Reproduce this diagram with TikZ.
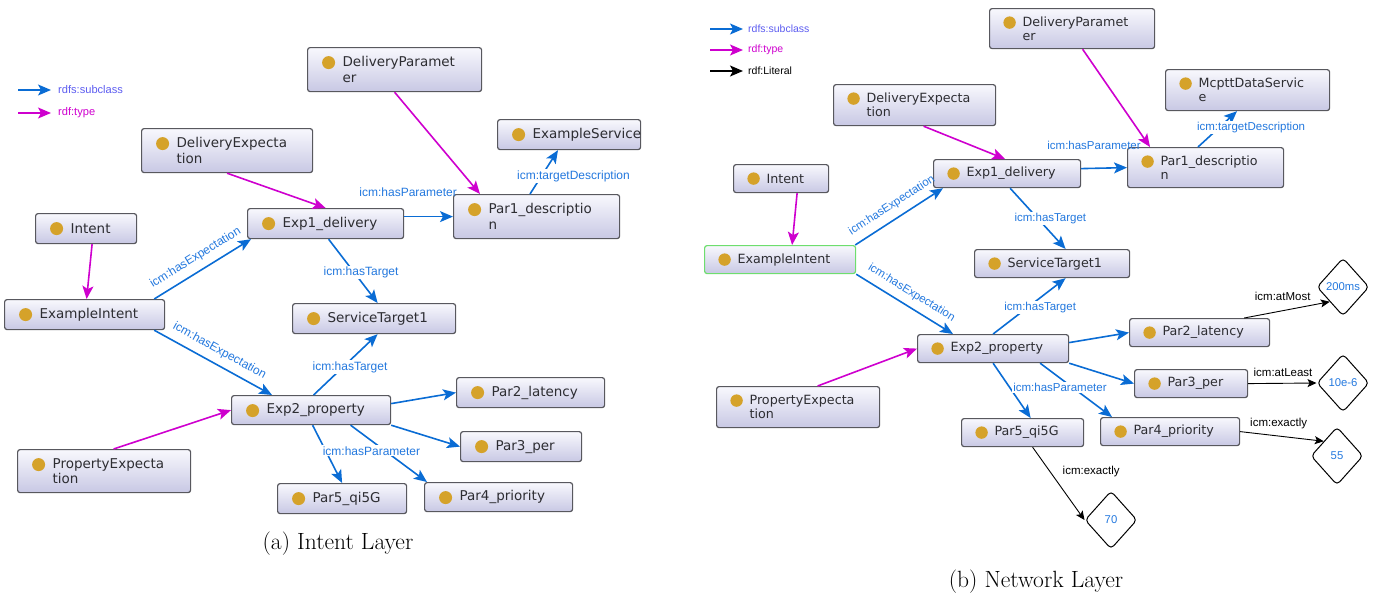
\documentclass[tikz,border=0pt]{standalone}
\usepackage{fontspec}
\usepackage{tikz}
\usetikzlibrary{arrows.meta,shapes.geometric}
\newfontfamily\nodefont{DejaVu Sans}
\newfontfamily\lblfont{Liberation Sans}
\definecolor{boxtop}{RGB}{248,248,253}
\definecolor{boxbot}{RGB}{200,200,228}
\definecolor{boxgray}{RGB}{88,88,94}
\definecolor{dotc}{RGB}{213,162,42}
\definecolor{txtgray}{RGB}{45,45,50}
\definecolor{edgeblue}{RGB}{10,108,212}
\definecolor{lblblue}{RGB}{35,120,222}
\definecolor{magen}{RGB}{206,0,206}
\definecolor{legblue}{RGB}{92,92,240}
\definecolor{greenb}{RGB}{110,222,110}
\hyphenpenalty=10000
\exhyphenpenalty=10000
\begin{document}
\begin{tikzpicture}[x=1pt,y=-1pt]
    \tikzstyle{cls}=[draw=boxgray, line width=1.2pt, rounded corners=2.5pt, top color=boxtop, bottom color=boxbot, anchor=north west, align=left, inner ysep=1pt, text=txtgray]
    \tikzstyle{clsL}=[cls, inner xsep=35pt, font=\nodefont\fontsize{13.5}{15.5}\selectfont, path picture={\fill [dotc] ([xshift=21pt,yshift=-15pt]path picture bounding box.north west) circle (6.5pt);}]
    \tikzstyle{clsR}=[cls, inner xsep=33pt, font=\nodefont\fontsize{12.7}{14.2}\selectfont, path picture={\fill [dotc] ([xshift=20pt,yshift=-14pt]path picture bounding box.north west) circle (6.2pt);}]
    \tikzstyle{sub}=[draw=edgeblue, line width=1.6pt, -{Stealth[length=13pt,width=11pt,inset=3pt]}]
    \tikzstyle{typ}=[draw=magen, line width=1.6pt, -{Stealth[length=13pt,width=11pt,inset=3pt]}]
    \tikzstyle{lit}=[draw=black, line width=0.9pt, -{Stealth[length=9pt,width=8pt,inset=2pt]}]
    \tikzstyle{lblL}=[text=lblblue, font=\lblfont\fontsize{12}{14}\selectfont, inner sep=1pt]
    \tikzstyle{lblR}=[text=lblblue, font=\lblfont\fontsize{11.5}{13}\selectfont, inner sep=1pt]
    \tikzstyle{litlbl}=[text=black, font=\lblfont\fontsize{11.5}{13}\selectfont, inner sep=1pt]
    \tikzstyle{litv}=[shape=diamond, draw=black, line width=1pt, rounded corners=4pt, minimum width=52pt, minimum height=58pt, inner sep=0pt, text=lblblue, font=\lblfont\fontsize{11.3}{13}\selectfont]
    \tikzstyle{leg}=[anchor=west, inner sep=0pt]
    \useasboundingbox (0,0) rectangle (1379,597);
    \coordinate (lgsL0) at (18,90);
    \coordinate (lgsL1) at (51,90);
    \coordinate (lgtL0) at (18,113);
    \coordinate (lgtL1) at (51,113);
    \draw [sub, line width=1.2pt] (lgsL0) -- (lgsL1);
    \draw [typ, line width=1.2pt] (lgtL0) -- (lgtL1);
    \node [leg, text=legblue, font=\lblfont\fontsize{11.1}{13}\selectfont] (lgsLt) at (58,90) {rdfs:subclass};
    \node [leg, text=magen, font=\lblfont\fontsize{11.1}{13}\selectfont] (lgtLt) at (58,113) {rdf:type};
    \node [clsL, minimum width=174pt, minimum height=44pt, text width=104pt] (dparL) at (307,47) {DeliveryParamet\\er};
    \node [clsL, minimum width=171pt, minimum height=44pt, text width=101pt] (dexpL) at (141,128) {DeliveryExpecta\\tion};
    \node [clsL, minimum width=143pt, minimum height=30pt, text width=73pt] (exsL) at (497,119) {ExampleService};
    \node [clsL, minimum width=101pt, minimum height=30pt, text width=31pt] (intL) at (35,213) {Intent};
    \node [clsL, minimum width=156pt, minimum height=30pt, text width=86pt] (exp1L) at (247,208) {Exp1\_delivery};
    \node [clsL, minimum width=166pt, minimum height=44pt, text width=96pt] (par1L) at (453,194) {Par1\_descriptio\\n};
    \node [clsL, minimum width=160pt, minimum height=30pt, text width=90pt] (exiL) at (4,299) {ExampleIntent};
    \node [clsL, minimum width=163pt, minimum height=30pt, text width=93pt] (st1L) at (292,303) {ServiceTarget1};
    \node [clsL, minimum width=159pt, minimum height=29pt, text width=89pt] (exp2L) at (231,395) {Exp2\_property};
    \node [clsL, minimum width=148pt, minimum height=30pt, text width=78pt] (par2L) at (456,377) {Par2\_latency};
    \node [clsL, minimum width=121pt, minimum height=30pt, text width=51pt] (par3L) at (460,431) {Par3\_per};
    \node [clsL, minimum width=129pt, minimum height=30pt, text width=59pt] (par5L) at (277,483) {Par5\_qi5G};
    \node [clsL, minimum width=148pt, minimum height=29pt, text width=78pt] (par4L) at (424,482) {Par4\_priority};
    \node [clsL, minimum width=173pt, minimum height=43pt, text width=103pt] (pexpL) at (17,449) {PropertyExpecta\\tion};
    \draw [typ] (dparL.south) -- ([xshift=27pt]par1L.north west);
    \draw [typ] (dexpL.south) -- (exp1L.north);
    \draw [typ] ([xshift=6pt]intL.south) -- ([xshift=2pt]exiL.north);
    \draw [sub] ([xshift=-11pt]exiL.north east) -- node [lblL, sloped, above=6pt] {icm:hasExpectation} ([xshift=4pt]exp1L.south west);
    \draw [sub] ([xshift=-11pt]exiL.south east) -- node [lblL, sloped, above=6pt] {icm:hasExpectation} ([xshift=41pt]exp2L.north west);
    \draw [sub] (exp1L.east |- par1L.west) -- node [lblL, pos=.08, above=18pt] {icm:hasParameter} (par1L.west);
    \draw [sub] ([xshift=77pt]par1L.north west) -- node [lblL, fill=white, pos=.41, xshift=32pt] {icm:targetDescription} ([xshift=61pt]exsL.south west);
    \draw [sub] ([xshift=3pt]exp1L.south) -- node [lblL, fill=white, pos=.52, xshift=7pt] {icm:hasTarget} ([xshift=3.5pt]st1L.north);
    \draw [sub] ([xshift=2.5pt]exp2L.north) -- node [lblL, fill=white, pos=.46, xshift=7pt] {icm:hasTarget} ([xshift=3.5pt]st1L.south);
    \draw [sub] ([yshift=6.5pt]exp2L.east) -- (par2L.west);
    \draw [sub] (exp2L.south east) -- (par3L.west);
    \draw [sub] ([xshift=1.5pt]exp2L.south) -- (par5L.north);
    \draw [sub] ([xshift=39.5pt]exp2L.south) -- node [lblL, fill=white, pos=.45, xshift=-13.5pt] {icm:hasParameter} ([xshift=3pt]par4L.north west);
    \draw [typ] ([xshift=9.5pt]pexpL.north) -- (exp2L.west);
    \node [font=\fontsize{23.5}{28}\selectfont] (capL) at (338,544) {(a) Intent Layer};
    \coordinate (lgsR0) at (710,29);
    \coordinate (lgsR1) at (743,29);
    \coordinate (lgtR0) at (710,50);
    \coordinate (lgtR1) at (743,50);
    \coordinate (lglR0) at (710,71);
    \coordinate (lglR1) at (743,71);
    \draw [sub, line width=1.2pt] (lgsR0) -- (lgsR1);
    \draw [typ, line width=1.2pt] (lgtR0) -- (lgtR1);
    \draw [lit, line width=1.2pt, -{Stealth[length=13pt,width=11pt,inset=3pt]}] (lglR0) -- (lglR1);
    \node [leg, text=legblue, font=\lblfont\fontsize{10.5}{12}\selectfont] (lgsRt) at (748,29) {rdfs:subclass};
    \node [leg, text=magen, font=\lblfont\fontsize{10.5}{12}\selectfont] (lgtRt) at (748,50) {rdf:type};
    \node [leg, text=black, font=\lblfont\fontsize{10.5}{12}\selectfont] (lglRt) at (748,71) {rdf:Literal};
    \node [clsR, minimum width=165pt, minimum height=40pt, text width=99pt] (dparR) at (989,8) {DeliveryParamet\\er};
    \node [clsR, minimum width=164pt, minimum height=41pt, text width=98pt] (mcpR) at (1165,69) {McpttDataServic\\e};
    \node [clsR, minimum width=162pt, minimum height=41pt, text width=96pt] (dexpR) at (833,84) {DeliveryExpecta\\tion};
    \node [clsR, minimum width=95pt, minimum height=28pt, text width=29pt] (intR) at (733,164) {Intent};
    \node [clsR, minimum width=147pt, minimum height=28pt, text width=81pt] (exp1R) at (933,159) {Exp1\_delivery};
    \node [clsR, minimum width=156pt, minimum height=40pt, text width=90pt] (par1R) at (1127,147) {Par1\_descriptio\\n};
    \node [clsR, draw=greenb, minimum width=151pt, minimum height=28pt, text width=85pt] (exiR) at (704,245) {ExampleIntent};
    \node [clsR, minimum width=155pt, minimum height=28pt, text width=89pt] (st1R) at (974,249) {ServiceTarget1};
    \node [clsR, minimum width=151pt, minimum height=28pt, text width=85pt] (exp2R) at (917,334) {Exp2\_property};
    \node [clsR, minimum width=140pt, minimum height=28pt, text width=74pt] (par2R) at (1129,318) {Par2\_latency};
    \node [clsR, minimum width=113pt, minimum height=28pt, text width=47pt] (par3R) at (1134,369) {Par3\_per};
    \node [clsR, minimum width=139pt, minimum height=28pt, text width=73pt] (par4R) at (1100,417) {Par4\_priority};
    \node [clsR, minimum width=122pt, minimum height=28pt, text width=56pt] (par5R) at (961,418) {Par5\_qi5G};
    \node [clsR, minimum width=163pt, minimum height=41pt, text width=97pt] (pexpR) at (716,386) {PropertyExpecta\\tion};
    \node [litv] (d200) at (1343,287) {200ms};
    \node [litv] (d10) at (1343,383) {10e-6};
    \node [litv] (d55) at (1337,456) {55};
    \node [litv] (d70) at (1111,520) {70};
    \draw [typ] ([xshift=10.5pt]dparR.south) -- ([xshift=23pt]par1R.north west);
    \draw [typ] ([xshift=9pt]dexpR.south) -- ([xshift=72pt]exp1R.north west);
    \draw [typ] ([xshift=16pt]intR.south) -- ([xshift=12pt]exiR.north);
    \draw [sub] ([xshift=-1pt]exiR.north east) -- node [lblR, sloped, above=6pt] {icm:hasExpectation} ([xshift=10pt]exp1R.south west);
    \draw [sub] (exiR.south east) -- node [lblR, sloped, above=6pt] {icm:hasExpectation} ([xshift=36pt]exp2R.north west);
    \draw [sub] ([yshift=5pt]exp1R.east) -- node [lblR, pos=.28, above=17pt] {icm:hasParameter} (par1R.west);
    \draw [sub] ([xshift=71pt]par1R.north west) -- node [lblR, fill=white, pos=.54, xshift=32pt] {icm:targetDescription} ([xshift=72pt]mcpR.south west);
    \draw [sub] ([xshift=3pt]exp1R.south) -- node [lblR, fill=white, pos=.5, xshift=12.5pt] {icm:hasTarget} ([xshift=13.5pt]st1R.north);
    \draw [sub] (exp2R.north) -- node [lblR, fill=white, pos=.47, xshift=13pt] {icm:hasTarget} ([xshift=13.5pt]st1R.south);
    \draw [sub] ([yshift=6pt]exp2R.east) -- (par2R.west);
    \draw [sub] (exp2R.south east) -- (par3R.west);
    \draw [sub] (exp2R.south) -- ([xshift=8pt]par5R.north);
    \draw [sub] ([xshift=47pt]exp2R.south) -- node [lblR, fill=white, pos=.45, xshift=-12.5pt] {icm:hasParameter} ([xshift=12pt]par4R.north west);
    \draw [typ] ([xshift=19.5pt]pexpR.north) -- (exp2R.west);
    \draw [lit] ([xshift=-26pt]par2R.north east) -- node [litlbl, pos=.45, above=9pt] {icm:atMost} (d200.south west);
    \draw [lit] (par3R.east) -- node [litlbl, pos=.51, above=5pt] {icm:atLeast} (d10.west);
    \draw [lit] (par4R.east) -- node [litlbl, pos=.46, above=6pt] {icm:exactly} (d55.north west);
    \draw [lit] ([xshift=10pt]par5R.south) -- node [litlbl, pos=.34, right=11pt] {icm:exactly} (d70.west);
    \node [font=\fontsize{23.5}{28}\selectfont] (capR) at (1036,582) {(b) Network Layer};
\end{tikzpicture}
\end{document}
